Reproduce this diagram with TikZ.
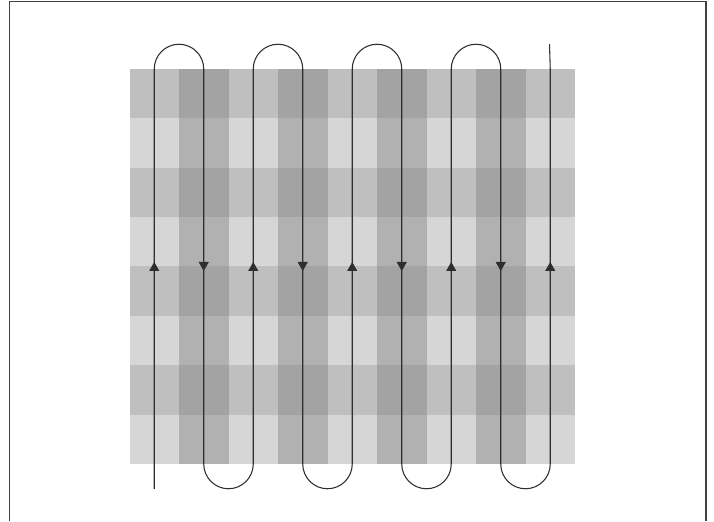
\documentclass[tikz,border=0pt]{standalone}
\usepackage{xcolor}
\usepackage{tikz}
\usetikzlibrary{arrows.meta,calc}
\definecolor{cloth0}{HTML}{D6D6D6}
\definecolor{cloth1}{HTML}{B1B1B1}
\definecolor{cloth2}{HTML}{BFBFBF}
\definecolor{cloth3}{HTML}{A3A3A3}
\definecolor{threadgrey}{HTML}{2E2E2E}

\begin{document}
\begin{tikzpicture}[
  x=0.03cm,y=0.03cm,
  thread/.style={draw=threadgrey,line width=0.9pt},
  threadtip/.style={-{Triangle[length=2.7mm,width=3mm]},draw=threadgrey,fill=threadgrey,line width=0.9pt},
  frameline/.style={draw=black!75,line width=1.2pt}
]
\useasboundingbox (0,0) rectangle (714,521);
\fill[white] (0,0) rectangle (714,521);
\draw[frameline] (9.5,0) -- (9.5,519.5) -- (706,519.5) -- (706,0);

\foreach \r in {1,...,8}{
  \foreach \c in {1,...,9}{
    \pgfmathtruncatemacro\k{2*mod(\r,2)+mod(\c+1,2)}
    \fill[cloth\k] ({129.5+49.5*(\c-1)},{452-49.375*\r}) rectangle +(49.6,49.45);
  }
}

\foreach \i in {1,...,9}{
  \pgfmathsetmacro\xx{154.25+49.5*(\i-1)}
  \coordinate (top\i) at (\xx,452);
  \coordinate (bot\i) at (\xx,57);
  \coordinate (mid\i) at (\xx,254.5);
}
\coordinate (start) at (154.25,32.25);
\coordinate (finish) at (549.5,476.75);

\draw[thread] (start) -- (top1) arc[start angle=180,end angle=0,radius=24.75]
  -- (bot2) arc[start angle=180,end angle=360,radius=24.75]
  -- (top3) arc[start angle=180,end angle=0,radius=24.75]
  -- (bot4) arc[start angle=180,end angle=360,radius=24.75]
  -- (top5) arc[start angle=180,end angle=0,radius=24.75]
  -- (bot6) arc[start angle=180,end angle=360,radius=24.75]
  -- (top7) arc[start angle=180,end angle=0,radius=24.75]
  -- (bot8) arc[start angle=180,end angle=360,radius=24.75]
  -- (top9) -- (finish);

\foreach \i in {1,3,5,7,9}
  \draw[threadtip] ($(mid\i)+(0,-10)$) -- ($(mid\i)+(0,4.5)$);
\foreach \i in {2,4,6,8}
  \draw[threadtip] ($(mid\i)+(0,10)$) -- ($(mid\i)+(0,-4.5)$);
\end{tikzpicture}
\end{document}
